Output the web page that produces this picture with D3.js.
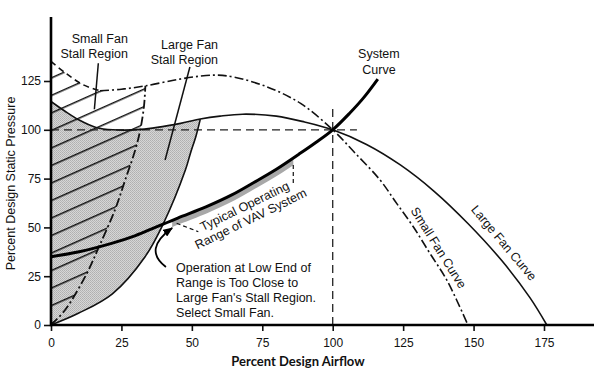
<!DOCTYPE html>
<html><head><meta charset="utf-8">
<script src="https://cdn.jsdelivr.net/npm/d3@7"></script>
<style>
html,body{margin:0;padding:0;background:#fff;}
svg{display:block;}
text{font-family:"Liberation Sans",Arial,sans-serif;fill:#111;}
</style></head>
<body><svg id="c" width="594" height="371"></svg>
<script>
// ---------- data ----------
const xTicks = [0, 25, 50, 75, 100, 125, 150, 175];
const yTicks = [0, 25, 50, 75, 100, 125];

const largeFanX = [0, 5, 10, 16, 22, 32, 46, 53, 60, 68, 80, 90, 100, 112, 124, 136, 148, 160, 170, 176];
const largeFanY = [114.5, 109.5, 105, 101.2, 100, 100.2, 103.3, 105.5, 107, 108, 107, 104, 100, 92.5, 82, 68.5, 52, 33, 14, 0];

const smallFanStallX = [0, 5.6, 11.5, 17.4];
const smallFanStallY = [135, 128.6, 123, 120];

const smallFanX = [17.4, 25, 33.5, 45, 53, 59, 65, 76.7, 88.6, 100, 108, 116.8, 122.7, 128.6, 134.5, 140.5, 148];
const smallFanY = [120, 120.8, 122.5, 125.8, 127.5, 128, 127, 122, 113.5, 100, 88, 74.3, 62.3, 50.3, 36.7, 23, 0];

const smallSurgeX = [0, 5, 12.4, 17, 22.7, 26.5, 29.9, 31.7, 33, 33.5];
const smallSurgeY = [0, 7.7, 25.5, 40, 59, 75, 89.6, 100, 112, 122.5];

const largeSurgeX = [0, 9.7, 21.8, 33.4, 39.9, 47.7, 49.5, 51.5, 53];
const largeSurgeY = [0, 6, 16, 35, 52, 79.4, 88, 97, 105.5];

const systemX = [0, 10, 21.5, 30, 37, 45, 55, 64, 72, 80, 88, 94, 100, 106, 111, 116];
const systemY = [35, 37.5, 41.8, 45.8, 50, 54.8, 60.5, 66.5, 73, 79.8, 87.5, 93.5, 100, 108.5, 116.5, 126];

const designPoint = [100, 100];
const hRefEnd = 108.6;   // horizontal reference line end (airflow %)
const vRefTop = 111;     // vertical reference line top (pressure %)
const opRange = [43, 86];

// ---------- setup ----------
const W = 594, H = 371;
const svg = d3.select("#c");
const x = d3.scaleLinear().domain([0, 175]).range([51, 544]);
const y = d3.scaleLinear().domain([0, 125]).range([325, 81]);
const zip = (a, b) => a.map((v, i) => [v, b[i]]);
const line = d3.line().x(d => x(d[0])).y(d => y(d[1])).curve(d3.curveCatmullRom.alpha(0.5));

const largeFan = zip(largeFanX, largeFanY);
const smallStall = zip(smallFanStallX, smallFanStallY);
const smallFan = zip(smallFanX, smallFanY);
const smallSurge = zip(smallSurgeX, smallSurgeY);
const largeSurge = zip(largeSurgeX, largeSurgeY);
const sys = zip(systemX, systemY);

const defs = svg.append("defs");
// stipple pattern
const pat = defs.append("pattern").attr("id", "stip").attr("patternUnits", "userSpaceOnUse")
  .attr("width", 2).attr("height", 2);
pat.append("rect").attr("width", 2).attr("height", 2).attr("fill", "#d6d6d6");
pat.append("rect").attr("width", 1).attr("height", 1).attr("fill", "#b0b0b0");
pat.append("rect").attr("x", 1).attr("y", 1).attr("width", 1).attr("height", 1).attr("fill", "#b8b8b8");

// hatch pattern
const hp = defs.append("pattern").attr("id", "hatch").attr("patternUnits", "userSpaceOnUse")
  .attr("width", 200).attr("height", 16)
  .attr("patternTransform", `translate(${x(0)},${y(100)}) rotate(-24)`);
hp.append("line").attr("x1", 0).attr("x2", 200).attr("y1", 0.8).attr("y2", 0.8)
  .attr("stroke", "#111").attr("stroke-width", 1.5);

// clip for small-fan stall region (hatched)
const hatchPath = line(smallStall.concat(smallFan.filter(d => d[0] > 17.4 && d[0] <= 33.5))) +
  line(smallSurge.slice().reverse()).replace(/^M/, "L") + "Z";
// large-fan stall region (shaded)
const shadePath = line(largeFan.filter(d => d[0] <= 53)) +
  line(largeSurge.slice().reverse()).replace(/^M/, "L") + "Z";

svg.append("path").attr("d", shadePath).attr("fill", "url(#stip)");
svg.append("path").attr("d", hatchPath).attr("fill", "url(#hatch)");

// operating range band
defs.append("clipPath").attr("id", "opclip").append("rect")
  .attr("x", x(opRange[0])).attr("width", x(opRange[1]) - x(opRange[0]))
  .attr("y", 0).attr("height", H);
svg.append("path").attr("d", line(sys)).attr("fill", "none")
  .attr("stroke", "#a8a8a8").attr("stroke-width", 6)
  .attr("clip-path", "url(#opclip)").attr("transform", "translate(0,3.5)");

// reference dashed lines
svg.append("line").attr("x1", x(0)).attr("x2", x(hRefEnd)).attr("y1", y(designPoint[1])).attr("y2", y(designPoint[1]))
  .attr("stroke", "#222").attr("stroke-width", 1.3).attr("stroke-dasharray", "8,5");
svg.append("line").attr("x1", x(designPoint[0])).attr("x2", x(designPoint[0])).attr("y1", y(0)).attr("y2", y(vRefTop))
  .attr("stroke", "#222").attr("stroke-width", 1.3).attr("stroke-dasharray", "8,5");

// curves
svg.append("path").attr("d", line(largeFan)).attr("fill", "none").attr("stroke", "#111").attr("stroke-width", 1.6);
svg.append("path").attr("d", line(largeSurge)).attr("fill", "none").attr("stroke", "#111").attr("stroke-width", 1.6);
svg.append("path").attr("d", line(smallStall)).attr("fill", "none").attr("stroke", "#111").attr("stroke-width", 1.6)
  .attr("stroke-dasharray", "6,4");
svg.append("path").attr("d", line(smallFan)).attr("fill", "none").attr("stroke", "#111").attr("stroke-width", 1.6)
  .attr("stroke-dasharray", "9,3,2,3");
svg.append("path").attr("d", line(smallSurge)).attr("fill", "none").attr("stroke", "#111").attr("stroke-width", 1.8)
  .attr("stroke-dasharray", "9,3,2,3");
svg.append("path").attr("d", line(sys)).attr("fill", "none").attr("stroke", "#000").attr("stroke-width", 3);

// axes
const xAxis = d3.axisBottom(x).tickValues(xTicks).tickSize(6).tickPadding(7).tickSizeOuter(0);
const yAxis = d3.axisLeft(y).tickValues(yTicks).tickSize(7).tickPadding(3).tickSizeOuter(0);
const gx = svg.append("g").attr("transform", `translate(0,${y(0)})`).call(xAxis);
const gy = svg.append("g").attr("transform", `translate(${x(0)},0)`).call(yAxis);
[gx, gy].forEach(g => {
  g.select(".domain").remove();
  g.selectAll(".tick line").attr("stroke", "#111").attr("stroke-width", 1.6);
  g.selectAll(".tick text").attr("font-size", 12).attr("fill", "#111")
    .style("font-family", '"Liberation Sans",Arial,sans-serif');
});
svg.append("line").attr("x1", x(0)).attr("x2", W).attr("y1", y(0)).attr("y2", y(0))
  .attr("stroke", "#000").attr("stroke-width", 2.6);
svg.append("line").attr("x1", x(0)).attr("x2", x(0)).attr("y1", y(0) + 1.3).attr("y2", 17)
  .attr("stroke", "#000").attr("stroke-width", 2.6);

// axis titles
svg.append("text").attr("x", 298).attr("y", 366).attr("text-anchor", "middle")
  .style("font-family", "Lato,'Open Sans',sans-serif").attr("font-weight", 700).attr("font-size", 13)
  .attr("fill", "#222").text("Percent Design Airflow");
svg.append("text").attr("transform", `translate(15,${(97 + 270) / 2}) rotate(-90)`).attr("text-anchor", "middle")
  .attr("font-size", 12.5).text("Percent Design Static Pressure");

// annotations
const fs = 12.5;
function label(lines, px, py, anchor, dy) {
  const t = svg.append("text").attr("font-size", fs).attr("text-anchor", anchor);
  lines.forEach((s, i) => t.append("tspan").attr("x", x(px)).attr("y", y(py) + i * dy).text(s));
  return t;
}
label(["Small Fan", "Stall Region"], 27.3, 144.5, "end", 15);
label(["Large Fan", "Stall Region"], 59.3, 141.4, "end", 15);
label(["System", "Curve"], 116.4, 136.8, "middle", 16);
label(["Operation at Low End of", "Range is Too Close to", "Large Fan's Stall Region.", "Select Small Fan."],
  44.4, 27.2, "start", 15);

function leader(a, b, dash) {
  svg.append("line").attr("x1", x(a[0])).attr("y1", y(a[1])).attr("x2", x(b[0])).attr("y2", y(b[1]))
    .attr("stroke", "#111").attr("stroke-width", dash ? 1.2 : 1.5).attr("stroke-dasharray", dash ? "4,3" : null);
}
leader([16.8, 134.1], [15.4, 110.5], false);
leader([49.3, 132.2], [40.5, 84.5], false);
leader([44.6, 52.1], [52.3, 47.8], true);
leader([86, 82], [86, 71.5], true);

// rotated labels
function rotLabel(lines, px, py, ang, dy) {
  const g = svg.append("g").attr("transform", `translate(${x(px)},${y(py)}) rotate(${ang})`);
  const t = g.append("text").attr("font-size", fs).attr("text-anchor", "middle");
  lines.forEach((s, i) => t.append("tspan").attr("x", 0).attr("y", i * dy).text(s));
}
rotLabel(["Typical Operating", "Range of VAV System"], 69.4, 58.9, -26, 14);
rotLabel(["Small Fan Curve"], 136.3, 38.4, 58, 0);
rotLabel(["Large Fan Curve"], 159.6, 40.6, 50, 0);

// arrow
defs.append("marker").attr("id", "ah").attr("viewBox", "0 0 10 8").attr("refX", 9).attr("refY", 4)
  .attr("markerWidth", 10).attr("markerHeight", 8).attr("markerUnits", "userSpaceOnUse").attr("orient", "auto")
  .append("path").attr("d", "M0,0 L10,4 L0,8 Z").attr("fill", "#000");
const tail = [40.8, 29.7], ctrl = [32.5, 38.8], tip = [43.0, 49.7];
svg.append("path")
  .attr("d", `M${x(tail[0])},${y(tail[1])} Q${x(ctrl[0])},${y(ctrl[1])} ${x(tip[0])},${y(tip[1])}`)
  .attr("fill", "none").attr("stroke", "#000").attr("stroke-width", 1.8).attr("marker-end", "url(#ah)");
</script></body></html>
